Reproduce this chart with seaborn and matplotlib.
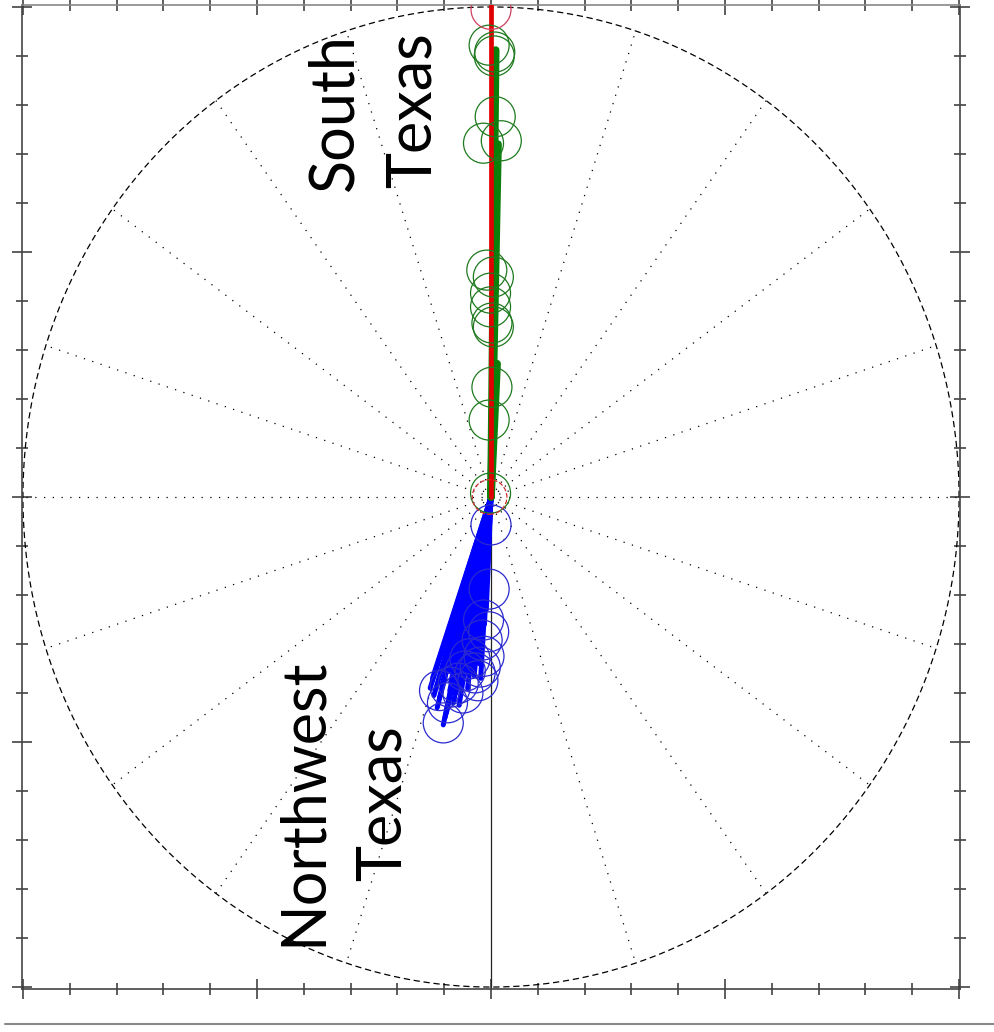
import numpy as np
import pandas as pd
import matplotlib
matplotlib.use("Agg")
import matplotlib.pyplot as plt
from matplotlib.lines import Line2D
from matplotlib.ticker import MultipleLocator
import seaborn as sns

# ---- vectors (x = east component, y = north component) ----
red_x = [0.0]
red_y = [10.05]

green_x = [0.10, 0.15, 0.13]
green_y = [9.12, 7.20, 2.72]

blue_x = [-1.30, -1.22, -1.15, -1.05, -1.02, -0.95, -0.88, -0.80, -0.72,
          -0.64, -0.55, -0.48, -0.40, -0.33, -0.26, -0.20, -0.14, -0.10,
          -1.25, -1.10, -0.98, -0.85, -0.75, -0.60, -0.50, -0.36, -0.30,
          -0.22, -0.90, -0.68]
blue_y = [-3.90, -4.05, -4.30, -3.85, -4.65, -4.40, -3.95, -4.20, -3.70,
          -3.85, -3.60, -3.35, -3.50, -3.20, -3.40, -2.90, -2.60, -2.30,
          -3.70, -4.10, -4.50, -3.75, -4.00, -3.45, -3.90, -3.65, -3.05,
          -3.70, -3.55, -4.25]

# ---- ring markers ----
red_ring_x = [0.0, -0.03]
red_ring_y = [9.95, 0.0]

green_ring_x = [0.08, 0.07, -0.04, 0.09, 0.22, -0.16, -0.09, 0.05, -0.01,
                -0.01, 0.02, 0.05, 0.02, -0.04, -0.01]
green_ring_y = [9.08, 9.00, 9.22, 7.76, 7.27, 7.22, 4.63, 4.49, 4.16,
                3.88, 3.55, 3.47, 2.24, 1.57, 0.08]

blue_ring_x = [0.00, -0.04, -0.16, -0.19, -0.23, -0.34, -0.70, -0.87, -0.93,
               -1.02, -0.55, -1.10, -0.45, -0.05, -0.60, -0.15, -0.28]
blue_ring_y = [-0.57, -1.88, -2.51, -2.92, -3.47, -3.59, -3.80, -3.88, -4.20,
               -4.61, -3.55, -3.95, -3.30, -2.75, -4.00, -3.25, -3.75]

labels = [("South", -3.33, 7.86), ("Texas", -1.66, 7.90),
          ("Northwest", -4.01, -6.22), ("Texas", -2.30, -6.24)]

R = 10.0
spoke_step = 18

sns.set_theme(style="white")
plt.rcParams["font.family"] = ["Lato", "DejaVu Sans"]

fig = plt.figure(figsize=(9.95, 10.32), dpi=100)
ax = fig.add_axes([22 / 995, 1 - 989 / 1032, 938 / 995, 984 / 1032])


def segments(xs, ys):
    rows = []
    for i, (x, y) in enumerate(zip(xs, ys)):
        rows.append({"seg": i, "x": 0.0, "y": 0.0})
        rows.append({"seg": i, "x": x, "y": y})
    return pd.DataFrame(rows)


def draw_segments(xs, ys, **kw):
    sns.lineplot(data=segments(xs, ys), x="x", y="y", units="seg",
                 estimator=None, sort=False, ax=ax, **kw)


# polar grid: dotted spokes, solid south spoke, dashed outer ring
ang_deg = np.arange(0, 360, spoke_step)
ang_deg = ang_deg[ang_deg != 270]
ang = np.deg2rad(ang_deg)
draw_segments(R * np.cos(ang), R * np.sin(ang), color="black", lw=0.9,
              linestyle=(0, (1, 6)), zorder=1)
draw_segments([0.0], [-R], color="#222222", lw=0.9, zorder=1)
th = np.linspace(0, 2 * np.pi, 400)
sns.lineplot(x=R * np.cos(th), y=R * np.sin(th), sort=False, estimator=None,
             color="black", lw=0.9, linestyle=(0, (5, 3)), ax=ax, zorder=1)

# vectors
draw_segments(blue_x, blue_y, color="#0000ff", lw=3.6, zorder=3)
draw_segments(green_x, green_y, color="#0a800a", lw=5.5, zorder=3)
draw_segments(red_x, red_y, color="#e00000", lw=3.4, zorder=4)

# ring markers
ring_s = 830
sns.scatterplot(x=blue_ring_x, y=blue_ring_y, s=ring_s, facecolor="none",
                edgecolor="#2a2ad0", linewidth=0.9, ax=ax, zorder=5)
sns.scatterplot(x=green_ring_x, y=green_ring_y, s=ring_s, facecolor="none",
                edgecolor="#1f7a1f", linewidth=0.9, ax=ax, zorder=5)
sns.scatterplot(x=red_ring_x[:1], y=red_ring_y[:1], s=ring_s, facecolor="none",
                edgecolor="#d04060", linewidth=0.9, ax=ax, zorder=5)
sns.scatterplot(x=red_ring_x[1:], y=red_ring_y[1:], s=620, facecolor="none",
                edgecolor="#d03030", linewidth=0.9, linestyle="--", ax=ax, zorder=5)

for txt, x, y in labels:
    ax.text(x, y, txt, rotation=90, ha="center", va="center", fontsize=44,
            color="black", zorder=6)

ax.set_xlim(-10.02, 10.02)
ax.set_ylim(-10.04, 10.04)
ax.set_xlabel("")
ax.set_ylabel("")
for axis in (ax.xaxis, ax.yaxis):
    axis.set_major_locator(MultipleLocator(5))
    axis.set_minor_locator(MultipleLocator(1))
ax.tick_params(which="both", direction="inout", top=True, right=True,
               bottom=True, left=True, labelbottom=False, labelleft=False,
               colors="#333333", width=1.1)
ax.tick_params(which="major", length=14)
ax.tick_params(which="minor", length=8)
for side, sp in ax.spines.items():
    sp.set_color("#444444" if side != "top" else "#888888")
    sp.set_linewidth(1.2)
ax.set_facecolor("white")

fig.add_artist(Line2D([5 / 995, 1.0], [1 - 1024 / 1032] * 2, color="#888888", lw=1.5))

fig.savefig("out.png", dpi=100, facecolor="white")
